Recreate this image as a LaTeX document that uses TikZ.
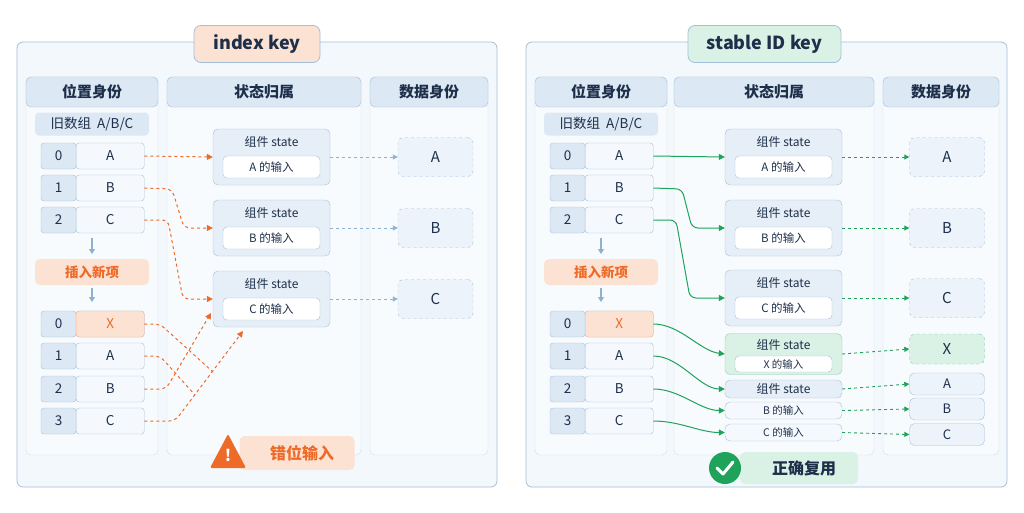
\documentclass[tikz,border=0pt]{standalone}
\usepackage{fontspec}
\setmainfont{Noto Sans CJK SC}
\usetikzlibrary{arrows.meta}
\definecolor{ink}{HTML}{1E2F4A}
\definecolor{frameline}{HTML}{A6BFD8}
\definecolor{framebg}{HTML}{F3F8FC}
\definecolor{headbg}{HTML}{DCE8F4}
\definecolor{cellbg}{HTML}{F5F9FD}
\definecolor{orng}{HTML}{EE6A28}
\definecolor{orngbg}{HTML}{FCE2D2}
\definecolor{grn}{HTML}{1FA25A}
\definecolor{grnbg}{HTML}{D9F2E5}
\definecolor{bluearr}{HTML}{8FB0D3}
\tikzset{
  panel/.style={draw=frameline,fill=framebg,rounded corners=6pt,line width=0.8pt},
  column/.style={draw=frameline!50,fill=white!40!framebg,rounded corners=5pt},
  head/.style={draw=frameline,fill=headbg,rounded corners=5pt,font=\fontsize{15}{18}\selectfont\bfseries,text=ink,inner sep=0pt},
  title/.style={draw=frameline,rounded corners=7pt,line width=0.8pt,font=\fontsize{18}{22}\selectfont\bfseries,text=ink,inner sep=0pt},
  idx/.style={draw=frameline,fill=headbg,rounded corners=3pt,minimum width=35pt,minimum height=26pt,inner sep=0pt,font=\fontsize{13.5}{15}\selectfont,text=ink},
  val/.style={draw=frameline,fill=cellbg,rounded corners=3pt,minimum width=68pt,minimum height=26pt,inner sep=0pt,font=\fontsize{13.5}{15}\selectfont,text=ink},
  state/.style={draw=frameline,fill=headbg!70!white,rounded corners=5pt,minimum width=117pt,inner sep=0pt,font=\fontsize{12}{14}\selectfont,text=ink},
  inbox/.style={draw=frameline,fill=white,rounded corners=4pt,minimum width=97pt,minimum height=22pt,inner sep=0pt,font=\fontsize{11.5}{13}\selectfont,text=ink},
  data/.style={draw=frameline,dashed,fill=headbg!50!white,rounded corners=5pt,minimum width=75pt,minimum height=39pt,inner sep=0pt,font=\fontsize{15}{17}\selectfont,text=ink},
  tag/.style={fill=orngbg,rounded corners=5pt,minimum width=114pt,minimum height=26pt,inner sep=0pt,font=\fontsize{13.5}{15}\selectfont\bfseries,text=orng},
  bad/.style={orng,dashed,line width=1pt,-{Triangle[length=6pt,width=6pt]},rounded corners=6pt},
  good/.style={grn,line width=1pt,-{Triangle[length=6pt,width=6pt]},rounded corners=6pt},
  keep/.style={bluearr,dashed,line width=0.9pt,-{Triangle[length=5pt,width=5pt]}},
  keepg/.style={grn,dashed,line width=0.9pt,-{Triangle[length=5pt,width=5pt]}},
  down/.style={bluearr,line width=1.2pt,-{Triangle[length=5pt,width=6pt]}}
}
\begin{document}
\begin{tikzpicture}[x=1pt,y=-1pt]
  \useasboundingbox[fill=white] (0,0) rectangle (1024,512);
  % index key panel
  \draw[panel] (17,42) rectangle (497,487);
  \node[title,fill=orngbg,minimum width=126pt,minimum height=37pt] (ltitle) at (257,44) {index key};
  \draw[column] (26,77) rectangle (158,455);
  \draw[column] (167,77) rectangle (361,455);
  \draw[column] (370,77) rectangle (488,455);
  \node[head,minimum width=132pt,minimum height=30pt] (lh1) at (92,92) {位置身份};
  \node[head,minimum width=194pt,minimum height=30pt] (lh2) at (264,92) {状态归属};
  \node[head,minimum width=118pt,minimum height=30pt] (lh3) at (429,92) {数据身份};
  \node[fill=headbg,rounded corners=4pt,minimum width=114pt,minimum height=23pt,inner sep=0pt,font=\fontsize{13.5}{15}\selectfont,text=ink] (lold) at (92,124) {旧数组\ \ A/B/C};
  \foreach \i/\v/\y in {0/A/156,1/B/188,2/C/220}{
    \node[idx] (li\i) at (58.5,\y) {\i};
    \node[val,anchor=west] (lo\i) at (76,\y) {\v};
  }
  \draw[down] (92,238) -- (92,254);
  \node[tag] (lins) at (92,272) {插入新项};
  \draw[down] (92,288) -- (92,302);
  \foreach \i/\v/\y in {0/X/324,1/A/356,2/B/389,3/C/421}{
    \node[idx] (lj\i) at (58.5,\y) {\i};
    \node[val,anchor=west] (ln\i) at (76,\y) {\v};
  }
  \node[val,anchor=west,fill=orngbg,draw=orng!50,text=orng] at (76,324) {X};
  \foreach \k/\v/\y in {1/A/157,2/B/228,3/C/299}{
    \node[state,minimum height=56pt] (ls\k) at (271.5,\y) {};
    \node[font=\fontsize{12}{14}\selectfont,text=ink] at (271.5,\y-15) {组件 state};
    \node[inbox] (lin\k) at (271.5,\y+10) {\v\ 的输入};
    \node[data] (ld\k) at (435.5,\y) {\v};
    \draw[keep] (ls\k.east) -- (ld\k.west);
  }
  \draw[bad] (lo0.east) -- (ls1.west);
  \draw[bad] (lo1.east) -- (172,189) -- (184,228) -- (ls2.west);
  \draw[bad] (lo2.east) -- (168,220) -- (183,299) -- (ls3.west);
  \coordinate (lx1) at (213,372);
  \coordinate (lx2) at (195,395);
  \coordinate (lx3) at (211,313);
  \coordinate (lx4) at (243,331);
  \draw[orng,dashed,line width=1pt,rounded corners=6pt] (ln0.east) -- (160,324) -- (lx1);
  \draw[orng,dashed,line width=1pt,rounded corners=6pt] (ln1.east) -- (160,356) -- (lx2);
  \draw[bad] (ln2.east) -- (166,389) -- (lx3);
  \draw[bad] (ln3.east) -- (175,421) -- (lx4);
  \node[tag,minimum width=115pt,minimum height=34pt,font=\fontsize{16}{18}\selectfont\bfseries] (lwarn) at (297,453) {\hspace{10pt}错位输入};
  \fill[orng,rounded corners=2pt] (210,468) -- (228,434) -- (246,468) -- cycle;
  \node[white,font=\fontsize{16}{18}\selectfont\bfseries] (lmark) at (228,455) {!};
  % stable ID key panel
  \draw[panel] (526,42) rectangle (1007,487);
  \node[title,fill=grnbg,minimum width=153pt,minimum height=37pt] (rtitle) at (764.5,44) {stable ID key};
  \draw[column] (535,77) rectangle (667,455);
  \draw[column] (674,77) rectangle (874,455);
  \draw[column] (883,77) rectangle (999,455);
  \node[head,minimum width=132pt,minimum height=30pt] (rh1) at (601,92) {位置身份};
  \node[head,minimum width=200pt,minimum height=30pt] (rh2) at (774,92) {状态归属};
  \node[head,minimum width=116pt,minimum height=30pt] (rh3) at (941,92) {数据身份};
  \node[fill=headbg,rounded corners=4pt,minimum width=114pt,minimum height=23pt,inner sep=0pt,font=\fontsize{13.5}{15}\selectfont,text=ink] (rold) at (601,124) {旧数组\ \ A/B/C};
  \foreach \i/\v/\y in {0/A/156,1/B/188,2/C/220}{
    \node[idx] (ri\i) at (567.5,\y) {\i};
    \node[val,anchor=west] (ro\i) at (585,\y) {\v};
  }
  \draw[down] (601,238) -- (601,254);
  \node[tag] (rins) at (601,272) {插入新项};
  \draw[down] (601,288) -- (601,302);
  \foreach \i/\v/\y in {0/X/324,1/A/356,2/B/389,3/C/421}{
    \node[idx] (rj\i) at (567.5,\y) {\i};
    \node[val,anchor=west] (rn\i) at (585,\y) {\v};
  }
  \node[val,anchor=west,fill=orngbg,draw=orng!50,text=orng] at (585,324) {X};
  \foreach \k/\v/\y in {1/A/157,2/B/228,3/C/298}{
    \node[state,minimum height=56pt] (rs\k) at (783.5,\y) {};
    \node[font=\fontsize{12}{14}\selectfont,text=ink] at (783.5,\y-15) {组件 state};
    \node[inbox] (rin\k) at (783.5,\y+10) {\v\ 的输入};
    \node[data] (rd\k) at (947,\y) {\v};
    \draw[keepg] (rs\k.east) -- (rd\k.west);
  }
  \node[state,fill=grnbg,draw=grn!50,minimum height=41pt] (rsx) at (783.5,354) {};
  \node[font=\fontsize{12}{14}\selectfont,text=ink] at (783.5,345) {组件 state};
  \node[inbox,minimum height=16pt,font=\fontsize{10.5}{12}\selectfont] (rinx) at (783.5,364) {X 的输入};
  \node[state,minimum height=18pt] (rsa) at (783.5,389) {组件 state};
  \node[state,fill=cellbg,minimum height=17pt,font=\fontsize{10.5}{12}\selectfont] (rsb) at (783.5,410.5) {B 的输入};
  \node[state,fill=cellbg,minimum height=17pt,font=\fontsize{10.5}{12}\selectfont] (rsc) at (783.5,432.5) {C 的输入};
  \node[data,fill=grnbg,draw=grn!60,minimum height=30pt] (rdx) at (947,349) {X};
  \node[data,solid,minimum height=22pt,font=\fontsize{13}{14}\selectfont] (rda) at (947,384) {A};
  \node[data,solid,minimum height=22pt,font=\fontsize{13}{14}\selectfont] (rdb) at (947,409) {B};
  \node[data,solid,minimum height=22pt,font=\fontsize{13}{14}\selectfont] (rdc) at (947,434.5) {C};
  \draw[keepg] (rsx.east) -- (rdx.west);
  \draw[keepg] (rsa.east) -- (rda.west);
  \draw[keepg] (rsb.east) -- (rdb.west);
  \draw[keepg] (rsc.east) -- (rdc.west);
  \draw[good] (ro0.east) -- (rs1.west);
  \draw[good] (ro1.east) -- (682,189) -- (692,228) -- (rs2.west);
  \draw[good] (ro2.east) -- (676,220) -- (690,298) -- (rs3.west);
  \draw[good] (rn0.east) .. controls (680,324) and (700,351) .. (rsx.west);
  \draw[good] (rn1.east) .. controls (680,356) and (700,389) .. (rsa.west);
  \draw[good] (rn2.east) .. controls (680,389) and (700,410.5) .. (rsb.west);
  \draw[good] (rn3.east) .. controls (680,421) and (700,432.5) .. (rsc.west);
  \node[fill=grnbg,rounded corners=5pt,minimum width=118pt,minimum height=32pt,inner sep=0pt,font=\fontsize{16}{18}\selectfont\bfseries,text=ink] (rok) at (799,468) {\hspace{10pt}正确复用};
  \fill[grn] (725,468) circle (16);
  \draw[white,line width=3pt,line cap=round,line join=round] (717,468) -- (723,474) -- (733,462);
\end{tikzpicture}
\end{document}
